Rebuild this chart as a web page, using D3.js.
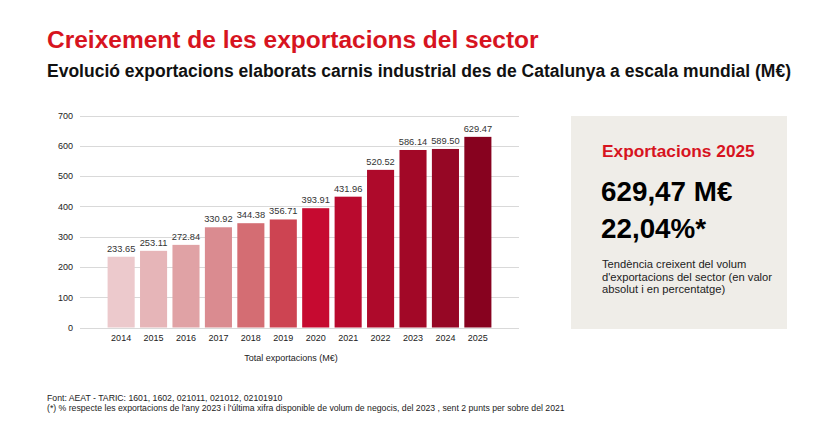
<!DOCTYPE html>
<html>
<head>
    <meta charset="utf-8">
    <script type="text/javascript" src="https://d3js.org/d3.v7.min.js"></script>
    <style>
body { margin: 0; background: #fff; font-family: "Liberation Sans", Arial, sans-serif; }
.grid line { stroke: #d9d9d9; stroke-width: 1px; }
.axis text { font-size: 9px; fill: #222; }
    </style>
</head>
<body>
    <svg width="834" height="423"></svg>

    <script type="text/javascript">

	var years = ["2014", "2015", "2016", "2017", "2018", "2019", "2020", "2021", "2022", "2023", "2024", "2025"];
	var exportValues = [233.65, 253.11, 272.84, 330.92, 344.38, 356.71, 393.91, 431.96, 520.52, 586.14, 589.50, 629.47];
	var barColors = ["#ecc9cc", "#e6b5b8", "#e0a2a5", "#da8b90", "#d46d73", "#cd4452", "#c60a30", "#b90a2e", "#ae0a2b", "#a20827", "#960725", "#87021f"];
	var yTicks = [0, 100, 200, 300, 400, 500, 600, 700];

	var svg = d3.select("svg");

	// titles
	svg.append("text")
		.attr("x", 47).attr("y", 48)
		.attr("font-size", 24.5).attr("font-weight", "bold")
		.attr("fill", "#d7141f")
		.text("Creixement de les exportacions del sector");

	svg.append("text")
		.attr("x", 47).attr("y", 77)
		.attr("font-size", 17.5).attr("font-weight", "bold")
		.attr("fill", "#111")
		.text("Evolució exportacions elaborats carnis industrial des de Catalunya a escala mundial (M€)");

	// chart
	var x = d3.scaleBand()
		.domain(years)
		.range([105, 494])
		.paddingInner(0.165)
		.paddingOuter(0.08);

	var y = d3.scaleLinear()
		.domain([0, 700])
		.range([327.5, 115.5]);

	svg.append("g")
		.attr("class", "grid")
		.selectAll("line")
		.data(yTicks)
		.enter().append("line")
		.attr("x1", 80).attr("x2", 519)
		.attr("y1", function(d) { return Math.round(y(d)) + 0.5; })
		.attr("y2", function(d) { return Math.round(y(d)) + 0.5; });

	var yAxis = svg.append("g")
		.attr("class", "axis")
		.attr("transform", "translate(73,0)")
		.call(d3.axisLeft(y).tickValues(yTicks).tickSize(0).tickPadding(0));
	yAxis.select(".domain").remove();

	var xAxis = svg.append("g")
		.attr("class", "axis")
		.attr("transform", "translate(0,333)")
		.call(d3.axisBottom(x).tickSize(0).tickPadding(2));
	xAxis.select(".domain").remove();

	svg.selectAll("rect.bar")
		.data(exportValues)
		.enter().append("rect")
		.attr("class", "bar")
		.attr("x", function(d, i) { return x(years[i]); })
		.attr("width", x.bandwidth())
		.attr("y", function(d) { return y(d); })
		.attr("height", function(d) { return y(0) - y(d); })
		.attr("fill", function(d, i) { return barColors[i]; });

	svg.selectAll("text.val")
		.data(exportValues)
		.enter().append("text")
		.attr("class", "val")
		.attr("x", function(d, i) { return x(years[i]) + x.bandwidth() / 2; })
		.attr("y", function(d) { return y(d) - 5; })
		.attr("text-anchor", "middle")
		.attr("font-size", 9.3).attr("fill", "#333")
		.text(function(d) { return d.toFixed(2); });

	svg.append("text")
		.attr("x", 291).attr("y", 361)
		.attr("text-anchor", "middle")
		.attr("font-size", 9).attr("fill", "#222")
		.text("Total exportacions (M€)");

	// side panel
	var panel = svg.append("g");
	panel.append("rect")
		.attr("x", 571).attr("y", 116)
		.attr("width", 216).attr("height", 213)
		.attr("fill", "#efede8");

	panel.append("text")
		.attr("x", 602).attr("y", 157)
		.attr("font-size", 17.3).attr("font-weight", "bold")
		.attr("fill", "#d7141f")
		.text("Exportacions 2025");

	panel.append("text")
		.attr("x", 601).attr("y", 201)
		.attr("font-size", 27.8).attr("font-weight", "bold")
		.attr("fill", "#000")
		.text("629,47 M€");

	panel.append("text")
		.attr("x", 601).attr("y", 238)
		.attr("font-size", 27.8).attr("font-weight", "bold")
		.attr("fill", "#000")
		.text("22,04%*");

	var descLines = ["Tendència creixent del volum", "d'exportacions del sector (en valor", "absolut i en percentatge)"];
	panel.selectAll("text.desc")
		.data(descLines)
		.enter().append("text")
		.attr("class", "desc")
		.attr("x", 602)
		.attr("y", function(d, i) { return 268 + i * 12.5; })
		.attr("font-size", 11.2).attr("fill", "#222")
		.text(function(d) { return d; });

	// footer
	var notes = ["Font: AEAT - TARIC: 1601, 1602, 021011, 021012, 02101910",
		"(*) % respecte les exportacions de l'any 2023 i l'última xifra disponible de volum de negocis, del 2023 , sent 2 punts per sobre del 2021"];
	svg.selectAll("text.note")
		.data(notes)
		.enter().append("text")
		.attr("class", "note")
		.attr("x", 47)
		.attr("y", function(d, i) { return 401 + i * 9.5; })
		.attr("font-size", 8.7).attr("fill", "#222")
		.text(function(d) { return d; });

	</script>
</body>
</html>
